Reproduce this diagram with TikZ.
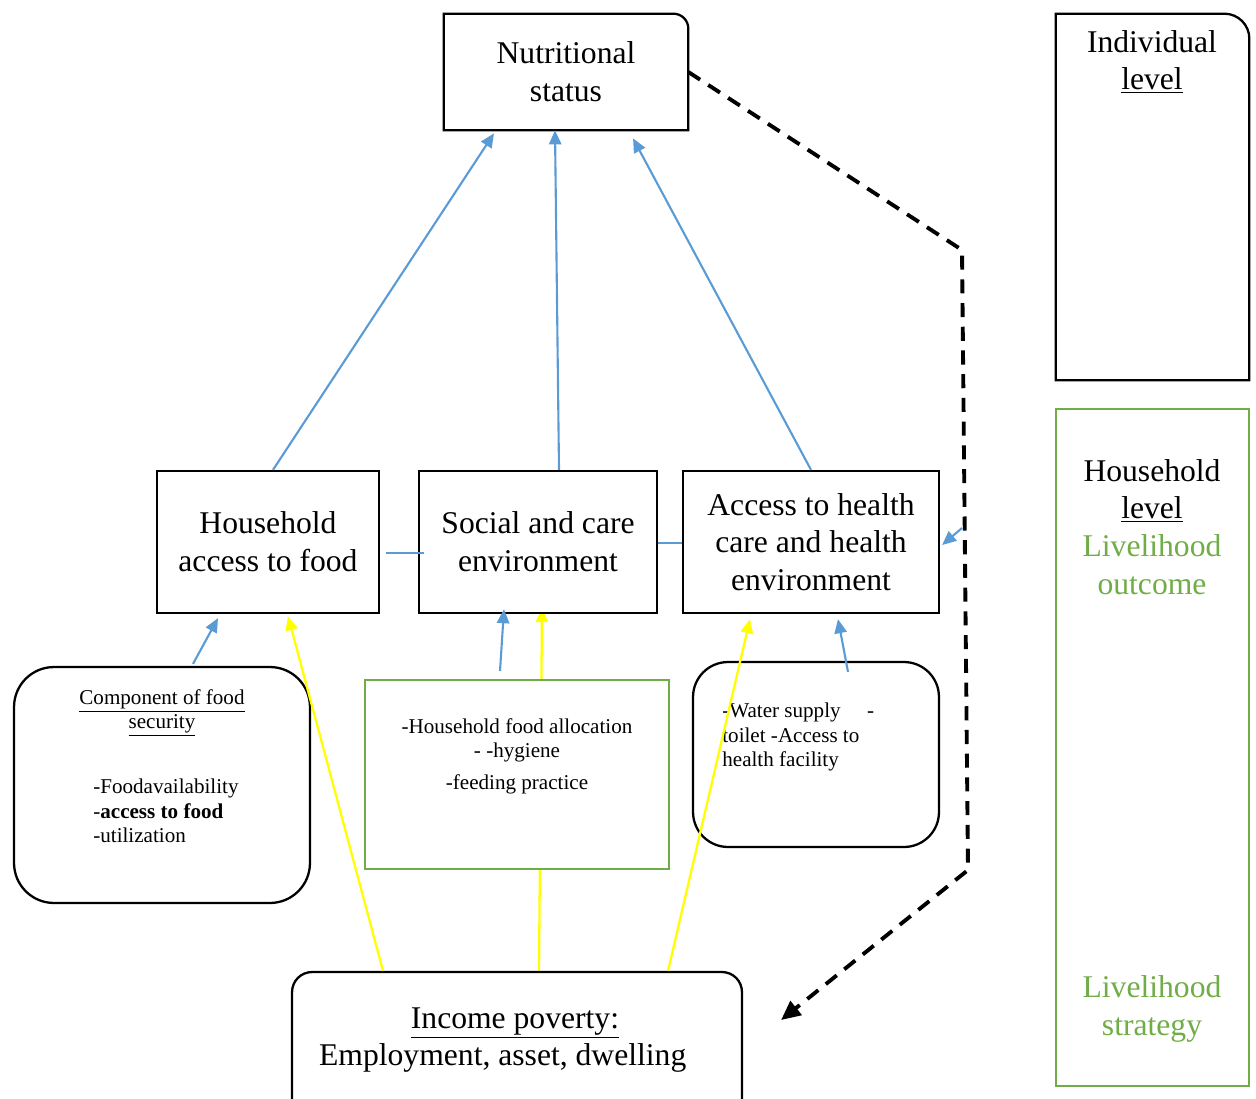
\documentclass[tikz,border=0pt]{standalone}
\usepackage{fontspec}
\setmainfont{Liberation Serif}
\usetikzlibrary{arrows.meta,calc,backgrounds}
\definecolor{ablue}{HTML}{5B9BD5}
\definecolor{agreen}{HTML}{70AD47}
\definecolor{ayellow}{HTML}{FFFF00}
\begin{document}
\begin{tikzpicture}[x=0.02cm,y=-0.02cm,
  bigtxt/.style={font=\fontsize{18}{21.5}\selectfont},
  smalltxt/.style={font=\fontsize{12}{13.9}\selectfont},
  box/.style={draw, line width=1.3pt, fill=white, inner sep=0pt, align=center, bigtxt},
  plainbox/.style={inner sep=0pt, align=center, bigtxt},
  lbl/.style={inner sep=0pt, align=center, bigtxt},
  slbl/.style={inner sep=0pt, smalltxt},
  bluearr/.style={draw=ablue, line width=1.2pt, -{Triangle[length=8pt,width=7pt]}},
  yelarr/.style={draw=ayellow, line width=1.3pt, -{Triangle[length=8pt,width=7pt]}},
  blueline/.style={draw=ablue, line width=0.9pt},
  dashline/.style={draw=black, line width=2.2pt, dash pattern=on 8pt off 5.5pt, -{Triangle[length=11pt,width=10pt]}}
]
\useasboundingbox (0,0) rectangle (1256,1098);

% top nodes
\node[plainbox, minimum width=4.88cm, minimum height=2.32cm] (nut) at (566,72) {Nutritional\\status};
\draw[line width=1.3pt] (nut.south west) -- (nut.north west) -- ($(nut.north east)+(-0.3cm,0)$) arc[start angle=90,end angle=0,radius=0.3cm] -- (nut.south east) -- cycle;

\node[plainbox, minimum width=3.86cm, minimum height=7.32cm] (ind) at (1152.5,197) {};
\draw[line width=1.3pt] (ind.south west) -- (ind.north west) -- ($(ind.north east)+(-0.5cm,0)$) arc[start angle=90,end angle=0,radius=0.5cm] -- (ind.south east) -- cycle;
\node[lbl] (indtxt) at (1152,62) {Individual\\\underline{level}};

\node[box, draw=agreen, line width=1.4pt, minimum width=3.86cm, minimum height=13.54cm] (hh) at (1152.5,747.5) {};
\node[lbl] (hhtxt) at (1152,527) {Household\\\underline{level}\\\textcolor{agreen}{Livelihood}\\\textcolor{agreen}{outcome}};
\node[lbl, text=agreen] (strat) at (1152,1009) {Livelihood\\strategy};

% middle row
\node[box, minimum width=4.44cm, minimum height=2.84cm] (haf) at (268,542) {Household\\access to food};
\node[box, minimum width=4.76cm, minimum height=2.84cm] (soc) at (538,542) {Social and care\\environment};
\node[box, minimum width=5.12cm, minimum height=2.84cm] (acc) at (811,542) {Access to health\\care and health\\environment};

% lower boxes
\node[box, rounded corners=0.8cm, minimum width=5.92cm, minimum height=4.72cm] (comp) at (162,785) {};
\node[slbl, align=center] (comptitle) at (162,713) {\underline{Component of food}\\\underline{security}};
\node[slbl, align=left, anchor=north west] (complist) at (93,779) {-Foodavailability\\-\textbf{access to food}\\-utilization};

\node[box, draw=agreen, line width=1.2pt, minimum width=6.08cm, minimum height=3.78cm] (care) at (517,774.5) {};
\node[slbl, align=center] (caretxt) at (517,756) {-Household food allocation\\- -hygiene\\[4pt]{\large -}feeding practice};

\node[box, rounded corners=0.7cm, minimum width=4.92cm, minimum height=3.7cm] (water) at (816,754.5) {};
\node[slbl, align=left, anchor=north west] (watertxt) at (722,703) {-Water supply\hspace{15pt}-\\toilet -Access to\\health facility};

\node[box, rounded corners=0.4cm, minimum width=9cm, minimum height=2.96cm] (inc) at (517,1046) {};
\node[lbl] (inctxt) at (515,1040) {\underline{Income poverty:}\\Employment, asset, dwelling\hspace*{14pt}};

% blue connectors
\draw[bluearr] ($(haf.north)+(5,0)$) -- ($(nut.south)+(-72,3)$);
\draw[bluearr] ($(soc.north)+(21,0)$) -- ($(nut.south)+(-11,0)$);
\draw[bluearr] (acc.north) -- ($(nut.south)+(67,8)$);
\draw[blueline] ($(haf.east)+(6,11)$) -- ($(soc.west)+(6,11)$);
\draw[blueline] ($(soc.east)+(0,1)$) -- ($(acc.west)+(0,1)$);
\draw[bluearr] ($(comp.north)+(31,-2)$) -- ($(haf.south)+(-50,4)$);
\draw[bluearr] ($(care.north)+(-17,-8)$) -- ($(soc.south)+(-34,-5)$);
\draw[bluearr] ($(water.north)+(32,11)$) -- ($(acc.south)+(27,5)$);
\coordinate (dmid) at (962,528);
\draw[bluearr] (dmid) -- ($(acc.east)+(2,3)$);

% yellow connectors
\begin{scope}[on background layer]
\draw[yelarr] ($(inc.north)+(22,0)$) -- ($(soc.south)+(4,-6)$);
\end{scope}
\draw[yelarr] ($(inc.north)+(-134,0)$) -- ($(haf.south)+(20,2)$);
\draw[yelarr] ($(inc.north)+(151,0)$) -- ($(acc.south)+(-61,5)$);

% dashed connector
\coordinate (dA) at (962,250);
\coordinate (dB) at (968,870);
\draw[dashline] (nut.east) -- (dA) -- (dB) -- ($(inc.east)+(38,-26)$);
\end{tikzpicture}
\end{document}
